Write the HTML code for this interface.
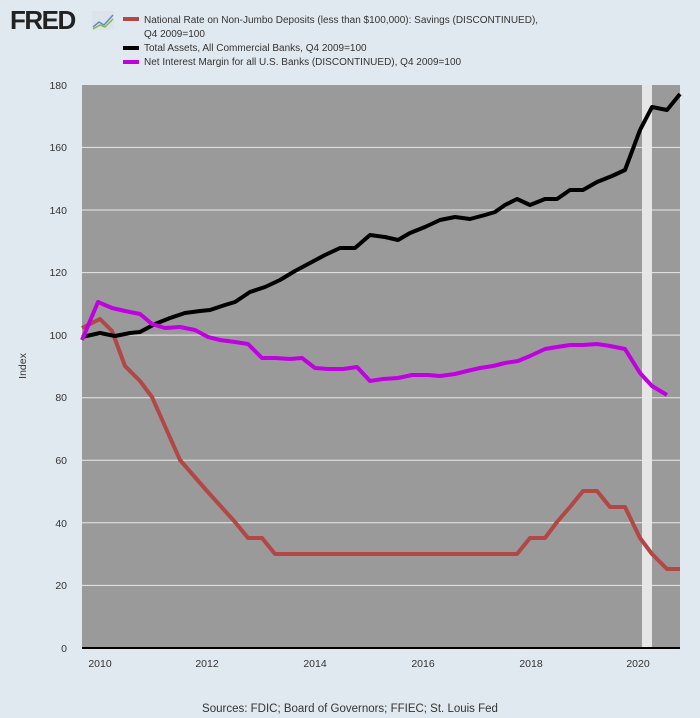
<!DOCTYPE html>
<html><head><style>
body{margin:0;background:#e1e9f0;}
svg{display:block;font-family:"Liberation Sans",sans-serif;}
</style></head><body>
<svg width="700" height="718" viewBox="0 0 700 718">
<rect width="700" height="718" fill="#e1e9f0"/>
<text x="10" y="29" font-size="26" font-weight="bold" fill="#222" letter-spacing="-1.5">FRED</text>
<rect x="92" y="11" width="22" height="19" fill="#dde3ea"/>
<polyline points="93,27 99,22 104,25 113,15" fill="none" stroke="#5a8fc8" stroke-width="1.5"/>
<polyline points="93,29 100,25 105,27 113,19" fill="none" stroke="#8bb84a" stroke-width="1.5"/>
<g font-size="10" fill="#333">
<rect x="123" y="17" width="16" height="4" fill="#b24745"/>
<text x="144" y="23">National Rate on Non-Jumbo Deposits (less than $100,000): Savings (DISCONTINUED),</text>
<text x="144" y="37">Q4 2009=100</text>
<rect x="123" y="46" width="16" height="4" fill="#000"/>
<text x="144" y="51">Total Assets, All Commercial Banks, Q4 2009=100</text>
<rect x="123" y="60" width="16" height="4" fill="#c000e0"/>
<text x="144" y="65">Net Interest Margin for all U.S. Banks (DISCONTINUED), Q4 2009=100</text>
</g>
<rect x="82" y="85" width="598" height="563" fill="#9a9a9a"/>
<rect x="642" y="85" width="10" height="563" fill="#e6e6e6"/>
<g stroke="#e8e8e8" stroke-width="1">
<line x1="82" x2="680" y1="585.4" y2="585.4"/>
<line x1="82" x2="680" y1="522.8" y2="522.8"/>
<line x1="82" x2="680" y1="460.3" y2="460.3"/>
<line x1="82" x2="680" y1="397.7" y2="397.7"/>
<line x1="82" x2="680" y1="335.1" y2="335.1"/>
<line x1="82" x2="680" y1="272.6" y2="272.6"/>
<line x1="82" x2="680" y1="210" y2="210"/>
<line x1="82" x2="680" y1="147.4" y2="147.4"/>
</g>
<line x1="82" x2="680" y1="648" y2="648" stroke="#000" stroke-width="2"/>
<g font-size="10.5" fill="#333" text-anchor="end">
<text x="67" y="652">0</text><text x="67" y="589">20</text><text x="67" y="527">40</text>
<text x="67" y="464">60</text><text x="67" y="401">80</text><text x="67" y="339">100</text>
<text x="67" y="276">120</text><text x="67" y="214">140</text><text x="67" y="151">160</text>
<text x="67" y="89">180</text>
</g>
<g font-size="10.5" fill="#333" text-anchor="middle">
<text x="100" y="667">2010</text><text x="207" y="667">2012</text><text x="315" y="667">2014</text>
<text x="423" y="667">2016</text><text x="531" y="667">2018</text><text x="638" y="667">2020</text>
</g>
<text transform="translate(26,366) rotate(-90)" font-size="10.5" fill="#333" text-anchor="middle">Index</text>
<text x="350" y="712" font-size="11.5" fill="#333" text-anchor="middle">Sources: FDIC; Board of Governors; FFIEC; St. Louis Fed</text>
<g fill="none" stroke-width="4" stroke-linejoin="round">
<polyline stroke="#b24745" points="82,328 100,319 112,331 125,366 140,381 152,397 180,460 207,491 235,522 248,538 262,538 275,554 517,554 530,538 545,538 557,522 570,507 583,491 597,491 610,507 625,507 640,538 652,554 667,569 680,569"/>
<polyline stroke="#000" points="82,337 100,333 115,336 130,333 140,332 155,324 170,318 185,313 200,311 210,310 225,305 235,302 250,292 265,287 280,280 295,271 310,263 325,255 340,248 355,248 370,235 385,237 398,240 410,233 425,227 440,220 455,217 470,219 485,215 495,212 505,205 517,199 530,205 545,199 557,199 570,190 583,190 597,182 612,176 625,170 640,130 652,107 667,110 680,94"/>
<polyline stroke="#c000e0" points="82,340 98,302 112,308 125,311 140,314 152,324 165,328 180,327 195,330 208,337 220,340 235,342 248,344 262,358 275,358 290,359 302,358 315,368 328,369 343,369 357,367 370,381 383,379 398,378 412,375 428,375 440,376 455,374 467,371 480,368 493,366 505,363 518,361 530,356 545,349 557,347 570,345 583,345 597,344 610,346 625,349 640,373 652,386 667,395"/>
</g>
</svg>
</body></html>
